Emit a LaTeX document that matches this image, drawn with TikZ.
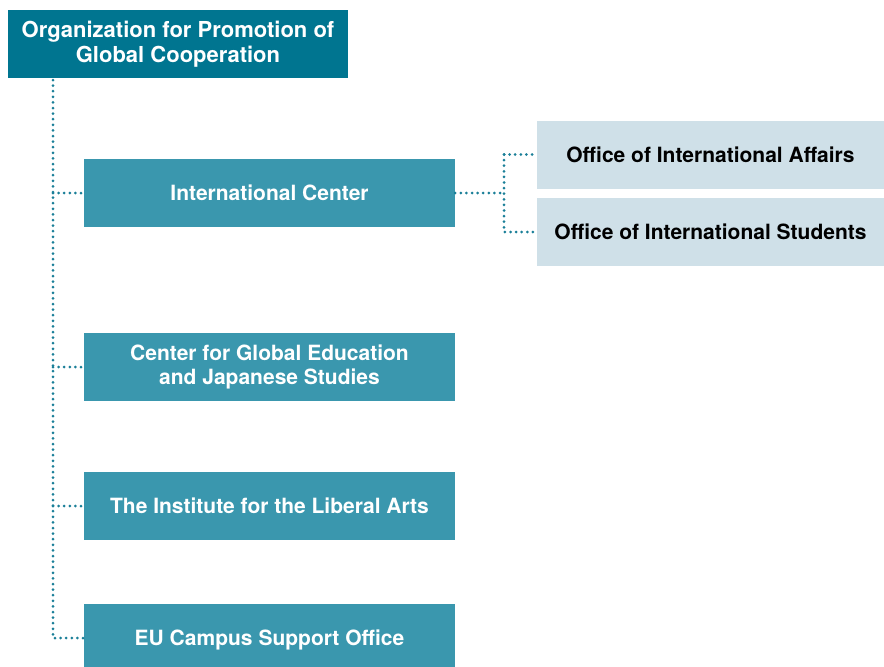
\documentclass[tikz,border=0pt]{standalone}
\usepackage{fontspec}
\setmainfont{TeX Gyre Heros}
\definecolor{darkteal}{HTML}{007590}
\definecolor{midteal}{HTML}{3A97AE}
\definecolor{lightbox}{HTML}{CFE0E8}
\definecolor{dotc}{HTML}{1A7F98}
\begin{document}
\begin{tikzpicture}[x=1pt,y=-1pt,
  boxfont/.style={font=\bfseries\fontsize{21}{24}\selectfont},
  topbox/.style={font=\bfseries\fontsize{22}{24}\selectfont,fill=darkteal,text=white,align=center,inner sep=0pt},
  midbox/.style={boxfont,fill=midteal,text=white,align=center,inner sep=0pt,minimum width=371pt,minimum height=68pt},
  lightnode/.style={boxfont,fill=lightbox,text=black,align=center,inner sep=0pt,minimum width=347pt,minimum height=68pt},
  dotline/.style={draw=dotc,line width=3pt,line cap=round,dash pattern=on 0pt off 5.6pt}]
\useasboundingbox (0,0) rectangle (884,667);
\node[topbox,minimum width=340pt,minimum height=68pt] (org) at (178,44) {\raisebox{-2pt}{\shortstack{Organization for Promotion of\\[1pt]Global Cooperation}}};
\node[midbox] (ic) at (269.5,193) {International Center};
\node[midbox] (cge) at (269.5,367) {Center for Global Education\\and Japanese Studies};
\node[midbox] (ila) at (269.5,506) {The Institute for the Liberal Arts};
\node[midbox,minimum height=72pt] (eu) at (269.5,640) {EU Campus Support Office};
\node[lightnode] (oia) at (710.5,154.5) {Office of International Affairs};
\node[lightnode] (ois) at (710.5,232) {Office of International Students};
\coordinate (trunktop) at (53,80);
\coordinate (trunkbot) at (53,638);
\coordinate (br) at (504,193);
\draw[dotline] (trunktop) -- (trunkbot) -- (trunkbot -| eu.west);
\draw[dotline] (53,193) -- (ic.west);
\draw[dotline] (53,367) -- (cge.west);
\draw[dotline] (53,506) -- (ila.west);
\draw[dotline] (ic.east) -- (br);
\draw[dotline] (br |- oia.west) -- (oia.west);
\draw[dotline] (br |- oia.west) -- (br |- ois.west) -- (ois.west);
\end{tikzpicture}
\end{document}
